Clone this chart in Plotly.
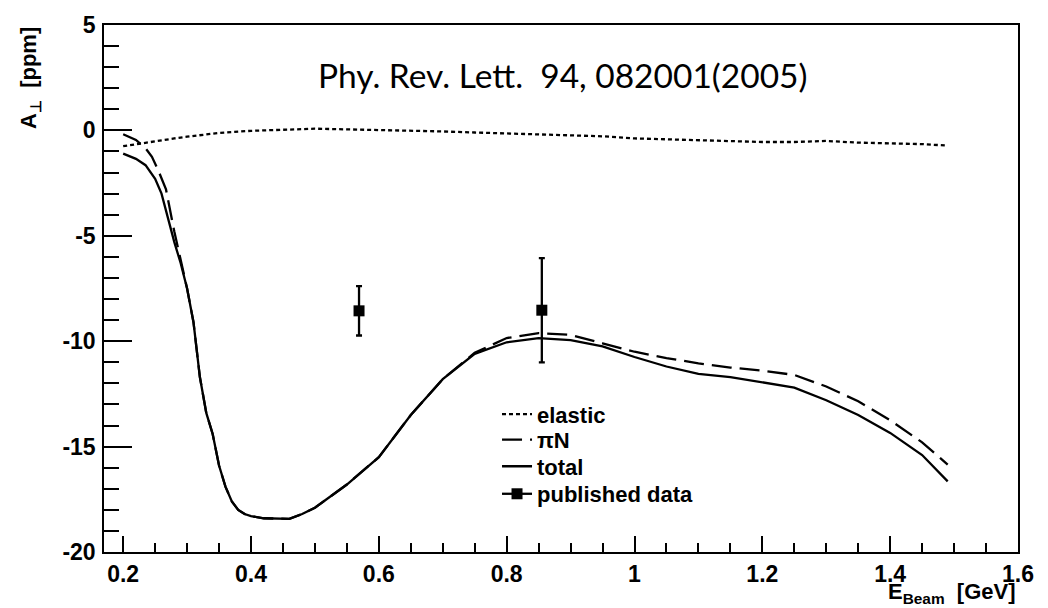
import plotly.graph_objects as go

# ---- data ----
e_elastic = [0.20, 0.22, 0.24, 0.26, 0.28, 0.30, 0.35, 0.40, 0.45, 0.50, 0.55, 0.60, 0.65,
             0.70, 0.75, 0.80, 0.85, 0.90, 0.95, 1.00, 1.05, 1.10, 1.15, 1.20, 1.25, 1.30,
             1.35, 1.40, 1.45, 1.49]
a_elastic = [-0.75, -0.65, -0.55, -0.45, -0.38, -0.30, -0.12, -0.02, 0.03, 0.08, 0.05, 0.02, 0.0,
             -0.05, -0.10, -0.15, -0.20, -0.25, -0.28, -0.38, -0.42, -0.45, -0.50, -0.55, -0.55, -0.50,
             -0.58, -0.60, -0.65, -0.72]

e_total = [0.20, 0.22, 0.235, 0.25, 0.26, 0.27, 0.28, 0.29, 0.30, 0.31, 0.32, 0.33, 0.34, 0.35,
           0.36, 0.37, 0.38, 0.39, 0.40, 0.42, 0.44, 0.46, 0.48, 0.50, 0.55, 0.60, 0.65, 0.70,
           0.75, 0.80, 0.85, 0.90, 0.95, 1.00, 1.05, 1.10, 1.15, 1.20, 1.25, 1.30, 1.35, 1.40,
           1.45, 1.49]
a_total = [-1.10, -1.35, -1.65, -2.30, -3.00, -4.20, -5.30, -6.30, -7.50, -9.10, -11.70, -13.40, -14.40, -15.90,
           -16.90, -17.60, -18.00, -18.20, -18.30, -18.40, -18.43, -18.43, -18.20, -17.90, -16.80, -15.50, -13.50, -11.80,
           -10.60, -10.05, -9.85, -9.95, -10.25, -10.75, -11.20, -11.55, -11.70, -11.95, -12.20, -12.80, -13.50, -14.35,
           -15.40, -16.65]

e_piN = [0.20, 0.22, 0.235, 0.245, 0.255, 0.267, 0.28, 0.29, 0.30, 0.31, 0.32, 0.33, 0.34, 0.35,
         0.36, 0.37, 0.38, 0.39, 0.40, 0.42, 0.44, 0.46, 0.48, 0.50, 0.55, 0.60, 0.65, 0.70,
         0.75, 0.80, 0.85, 0.90, 0.95, 1.00, 1.05, 1.10, 1.15, 1.20, 1.25, 1.30, 1.35, 1.40,
         1.45, 1.49]
a_piN = [-0.18, -0.45, -0.85, -1.25, -1.90, -2.80, -4.80, -6.10, -7.50, -9.10, -11.70, -13.40, -14.40, -15.90,
         -16.90, -17.60, -18.00, -18.20, -18.30, -18.40, -18.43, -18.43, -18.20, -17.90, -16.80, -15.50, -13.50, -11.80,
         -10.55, -9.85, -9.62, -9.70, -10.10, -10.50, -10.80, -11.05, -11.25, -11.40, -11.60, -12.15, -12.85, -13.75,
         -14.80, -15.85]

e_data = [0.569, 0.855]
a_data = [-8.56, -8.53]
err_data = [1.17, 2.47]

x_tickvals = [0.2, 0.4, 0.6, 0.8, 1.0, 1.2, 1.4, 1.6]
x_ticktext = ["0.2", "0.4", "0.6", "0.8", "1", "1.2", "1.4", "1.6"]
y_tickvals = [-20, -15, -10, -5, 0, 5]
y_ticktext = ["-20", "-15", "-10", "-5", "0", "5"]

legend_names = ["elastic", "πN", "total", "published data"]

FONT = "Arial"
BOLD = dict(family=FONT, color="black", weight=700)

fig = go.Figure()
fig.add_trace(go.Scatter(x=e_elastic, y=a_elastic, mode="lines", name=legend_names[0],
                         legend="legend",
                         line=dict(color="black", width=2.3, dash="4px,3px")))
fig.add_trace(go.Scatter(x=e_piN, y=a_piN, mode="lines", name=legend_names[1],
                         legend="legend2",
                         line=dict(color="black", width=2.3, dash="20px,8px")))
fig.add_trace(go.Scatter(x=e_total, y=a_total, mode="lines", name=legend_names[2],
                         legend="legend3",
                         line=dict(color="black", width=2.3)))
fig.add_trace(go.Scatter(x=[None], y=[None], mode="lines+markers", name=legend_names[3],
                         legend="legend4",
                         line=dict(color="black", width=2.3),
                         marker=dict(symbol="square", size=11, color="black")))
fig.add_trace(go.Scatter(x=e_data, y=a_data, mode="markers", showlegend=False,
                         marker=dict(symbol="square", size=11, color="black"),
                         error_y=dict(type="data", array=err_data, visible=True,
                                      color="black", thickness=2.3, width=3)))

leg_common = dict(x=0.43, xanchor="left", yanchor="middle",
                  bgcolor="rgba(0,0,0,0)", borderwidth=0,
                  font=dict(BOLD, size=22))

fig.update_layout(
    width=1048, height=608,
    margin=dict(l=104, r=30, t=16, b=56),
    paper_bgcolor="white", plot_bgcolor="white",
    font=dict(family=FONT, color="black"),
    showlegend=True,
    legend=dict(leg_common, y=0.2612),
    legend2=dict(leg_common, y=0.2127),
    legend3=dict(leg_common, y=0.1623),
    legend4=dict(leg_common, y=0.1101),
)

fig.update_xaxes(
    range=[0.17, 1.6], showgrid=False, zeroline=False,
    showline=True, linecolor="black", linewidth=1.5, mirror=True,
    ticks="inside", ticklen=16, tickwidth=1.5, tickcolor="black",
    tickvals=x_tickvals, ticktext=x_ticktext,
    tickfont=dict(BOLD, size=23),
    ticklabelstandoff=1,
    minor=dict(ticks="inside", ticklen=9, tickwidth=1.5, tickcolor="black",
               tick0=0.2, dtick=0.05, showgrid=False),
)
fig.update_yaxes(
    range=[-20, 5], showgrid=False, zeroline=False,
    showline=True, linecolor="black", linewidth=1.5, mirror=True,
    ticks="inside", ticklen=28, tickwidth=1.5, tickcolor="black",
    tickvals=y_tickvals, ticktext=y_ticktext,
    tickfont=dict(BOLD, size=23),
    ticklabelstandoff=2,
    minor=dict(ticks="inside", ticklen=15, tickwidth=1.5, tickcolor="black",
               tick0=0, dtick=1, showgrid=False),
)

# axis titles (ROOT style: aligned to the axis end)
fig.add_annotation(text="A<sub>⊥</sub> &nbsp;[ppm]", xref="paper", yref="paper",
                   x=-0.081, y=1.0, xanchor="center", yanchor="top", textangle=-90,
                   showarrow=False, font=dict(BOLD, size=22))
fig.add_annotation(text="E<sub>Beam</sub> &nbsp;[GeV]", xref="paper", yref="paper",
                   x=1.0, y=-0.078, xanchor="right", yanchor="middle",
                   showarrow=False, font=dict(BOLD, size=22))

fig.add_annotation(text="Phy. Rev. Lett. &nbsp;94, 082001(2005)", xref="paper", yref="paper",
                   x=0.502, y=0.905, xanchor="center", yanchor="middle",
                   showarrow=False, font=dict(family="Lato", size=33.5, color="black"))

fig.write_html("out.html")
